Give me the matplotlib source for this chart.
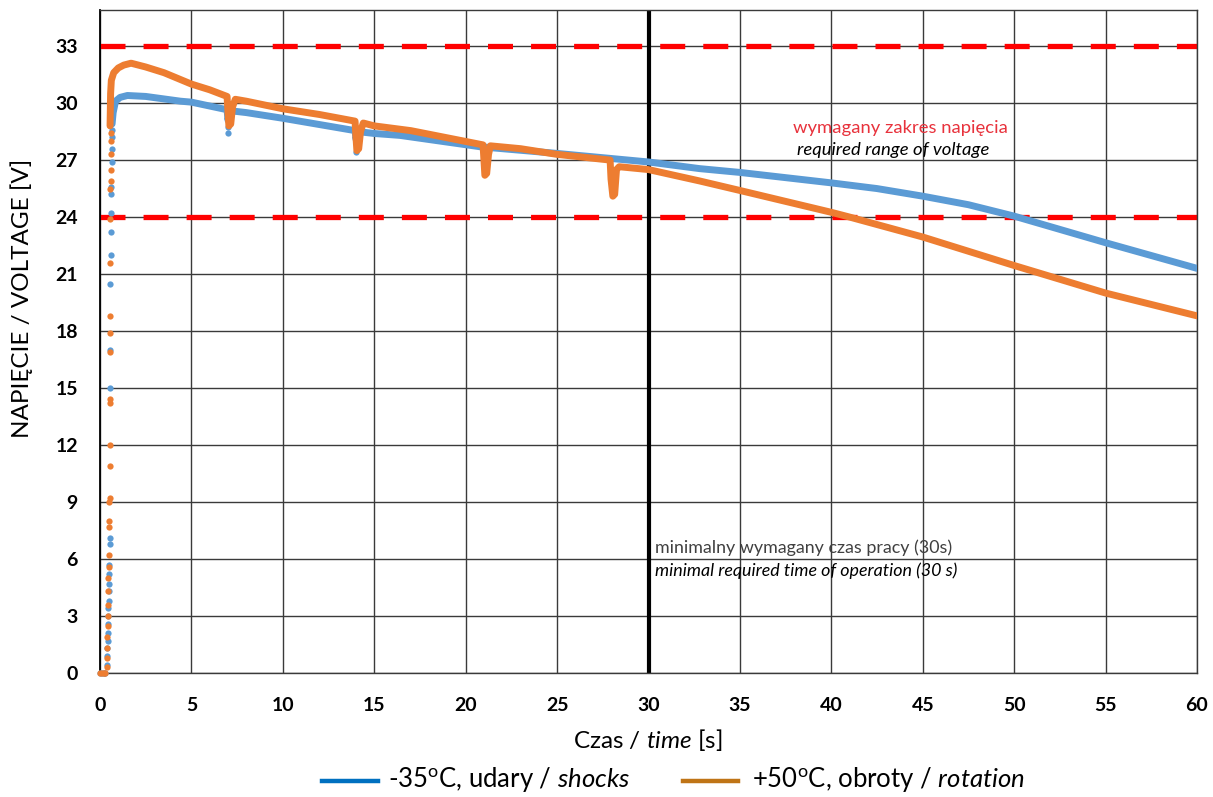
import matplotlib
matplotlib.use("Agg")
import matplotlib.pyplot as plt

plt.rcParams['font.family'] = ['Lato', 'DejaVu Sans']
plt.rcParams['mathtext.fontset'] = 'custom'
plt.rcParams['mathtext.rm'] = 'Lato'
plt.rcParams['mathtext.it'] = 'Lato:italic'
plt.rcParams['lines.scale_dashes'] = False

# -35 C, shocks: start-up samples and the main discharge curve
t_cold_rise = [0.0, 0.1, 0.2, 0.3, 0.38, 0.40, 0.41, 0.42, 0.43, 0.44, 0.45, 0.46, 0.47,
               0.48, 0.49, 0.50, 0.51, 0.52, 0.53, 0.55, 0.56, 0.57, 0.58, 0.59, 0.60,
               0.61, 0.62, 0.63, 0.64, 0.65, 0.66]
v_cold_rise = [0.0, 0.0, 0.0, 0.0, 0.4, 0.9, 1.3, 1.7, 2.1, 2.6, 3.0, 3.4, 3.8,
               4.3, 4.7, 5.2, 5.7, 6.8, 7.1, 15.0, 17.0, 20.5, 22.0, 23.2, 24.2,
               25.2, 25.6, 26.9, 27.6, 28.2, 28.6]
t_cold = [0.66, 0.72, 0.85, 1.1, 1.5, 2.5, 4.4, 5.0, 6.95, 7.0, 7.1, 8.0, 10.0, 13.95,
          14.0, 14.1, 15.0, 16.4, 20.8, 25.0, 30.0, 32.8, 35.0, 40.0, 42.5, 45.0, 47.5,
          50.0, 55.0, 60.0]
v_cold = [28.9, 29.5, 30.1, 30.3, 30.4, 30.35, 30.1, 30.05, 29.65, 29.1, 29.6, 29.5, 29.2,
          28.55, 28.1, 28.5, 28.4, 28.3, 27.7, 27.35, 26.9, 26.55, 26.35, 25.8, 25.5, 25.1,
          24.65, 24.05, 22.65, 21.3]
t_cold_dips = [7.0, 7.0, 14.0]
v_cold_dips = [28.4, 28.75, 27.4]

# +50 C, rotation: start-up samples and the main discharge curve
t_hot_rise = [0.0, 0.1, 0.2, 0.3, 0.38, 0.39, 0.40, 0.41, 0.42, 0.43, 0.44, 0.45, 0.46,
              0.47, 0.48, 0.49, 0.50, 0.51, 0.52, 0.52, 0.53, 0.53, 0.54, 0.54, 0.55,
              0.55, 0.56, 0.56, 0.57, 0.58, 0.59, 0.60, 0.61, 0.62]
v_hot_rise = [0.0, 0.0, 0.0, 0.0, 0.3, 0.8, 1.3, 1.9, 2.5, 3.0, 3.6, 4.3, 5.0,
              5.6, 6.2, 7.7, 8.0, 9.0, 9.2, 10.9, 12.0, 14.2, 14.4, 16.9, 17.9,
              18.8, 21.6, 23.9, 25.5, 25.9, 26.5, 27.3, 28.0, 28.4]
t_hot = [0.55, 0.58, 0.62, 0.75, 1.0, 1.3, 1.7, 2.5, 3.5, 5.0, 6.0, 6.95, 7.0, 7.05,
         7.15, 7.25, 7.4, 8.0, 10.0, 12.0, 13.95, 14.0, 14.05, 14.15, 14.25, 14.4, 15.0,
         17.0, 20.95, 21.0, 21.05, 21.15, 21.25, 21.35, 23.0, 25.0, 27.9, 27.95, 28.05,
         28.15, 28.25, 28.4, 30.0, 32.8, 35.0, 40.0, 41.0, 45.0, 50.0, 55.0, 60.0]
v_hot = [28.8, 30.5, 31.2, 31.6, 31.85, 32.0, 32.1, 31.9, 31.6, 31.0, 30.7, 30.35, 29.5,
         28.8, 28.9, 29.8, 30.2, 30.1, 29.7, 29.4, 29.05, 28.2, 27.5, 27.6, 28.5, 28.95,
         28.8, 28.55, 27.8, 27.0, 26.2, 26.3, 27.3, 27.75, 27.6, 27.3, 27.0, 26.0, 25.1,
         25.2, 26.5, 26.65, 26.5, 25.9, 25.4, 24.25, 24.0, 22.95, 21.45, 20.0, 18.8]

v_limits = [33, 24]
t_min_required = 30
x_ticks = list(range(0, 61, 5))
y_ticks = list(range(0, 34, 3))

c_cold = '#5B9BD5'
c_hot = '#ED7D31'

fig = plt.figure(figsize=(12.13, 7.97), dpi=100)
ax = fig.add_axes([100 / 1213, 1 - 673 / 797, 1097 / 1213, 663 / 797])
ax.set_xlim(0, 60)
ax.set_ylim(0, 34.9)
ax.set_xticks(x_ticks)
ax.set_yticks(y_ticks)
ax.grid(True, color='#3a3a3a', lw=1.0, zorder=0)
ax.set_axisbelow(True)
ax.tick_params(length=0, labelsize=14)
ax.tick_params(axis='x', pad=17)
ax.tick_params(axis='y', pad=16)
for lab in ax.get_xticklabels() + ax.get_yticklabels():
    lab.set_fontweight('bold')
for side in ['top', 'right', 'bottom']:
    ax.spines[side].set_color('#3a3a3a')
    ax.spines[side].set_linewidth(1.0)
ax.spines['left'].set_color('black')
ax.spines['left'].set_linewidth(1.3)

# required voltage range
for v in v_limits:
    ax.axhline(v, color='#FF0000', lw=3.8, dashes=(18, 13), zorder=2)

# minimum required operating time
ax.axvline(t_min_required, color='black', lw=3.0, zorder=2)

kw_line = dict(lw=5.0, solid_capstyle='round', solid_joinstyle='round')
ax.plot(t_cold_rise, v_cold_rise, 'o', ms=4.5, color=c_cold, mec='none', zorder=3, clip_on=False)
ax.plot(t_cold, v_cold, color=c_cold, zorder=3, **kw_line)
ax.plot(t_cold_dips, v_cold_dips, 'o', ms=4.5, color=c_cold, mec='none', zorder=3)
ax.plot(t_hot_rise, v_hot_rise, 'o', ms=4.5, color=c_hot, mec='none', zorder=4, clip_on=False)
ax.plot(t_hot, v_hot, color=c_hot, zorder=4, **kw_line)

# annotations
ax.text(900 / 1213, 1 - 128 / 797, 'wymagany zakres napięcia', transform=fig.transFigure,
        ha='center', va='center', fontsize=13.3, color='#E8323C')
ax.text(893 / 1213, 1 - 150 / 797, 'required range of voltage', transform=fig.transFigure,
        ha='center', va='center', fontsize=13.3, style='italic', color='black')
ax.text(655 / 1213, 1 - 548 / 797, 'minimalny wymagany czas pracy (30s)', transform=fig.transFigure,
        ha='left', va='center', fontsize=12.9, color='#404040')
ax.text(655 / 1213, 1 - 571 / 797, 'minimal required time of operation (30 s)', transform=fig.transFigure,
        ha='left', va='center', fontsize=12.9, style='italic', color='black')

# axis titles
fig.text(22 / 1213, 1 - 298 / 797, 'NAPIĘCIE / VOLTAGE [V]', rotation=90,
         ha='center', va='center', fontsize=17.5)
fig.text(648 / 1213, 1 - 740 / 797, r'Czas / $\mathit{time}$ [s]',
         ha='center', va='center', fontsize=17.5)

# legend
fig.lines.append(plt.Line2D([322 / 1213, 378 / 1213], [1 - 781 / 797] * 2,
                            transform=fig.transFigure, color='#0070C0', lw=3.2))
fig.text(388 / 1213, 1 - 780 / 797, r'-35$^\mathregular{o}$C, udary / $\mathit{shocks}$',
         ha='left', va='center', fontsize=18.5)
fig.lines.append(plt.Line2D([683 / 1213, 738 / 1213], [1 - 781 / 797] * 2,
                            transform=fig.transFigure, color='#BF7416', lw=3.2))
fig.text(752 / 1213, 1 - 780 / 797, r'+50$^\mathregular{o}$C, obroty / $\mathit{rotation}$',
         ha='left', va='center', fontsize=18.5)

fig.savefig('out.png', dpi=100, facecolor='white')
